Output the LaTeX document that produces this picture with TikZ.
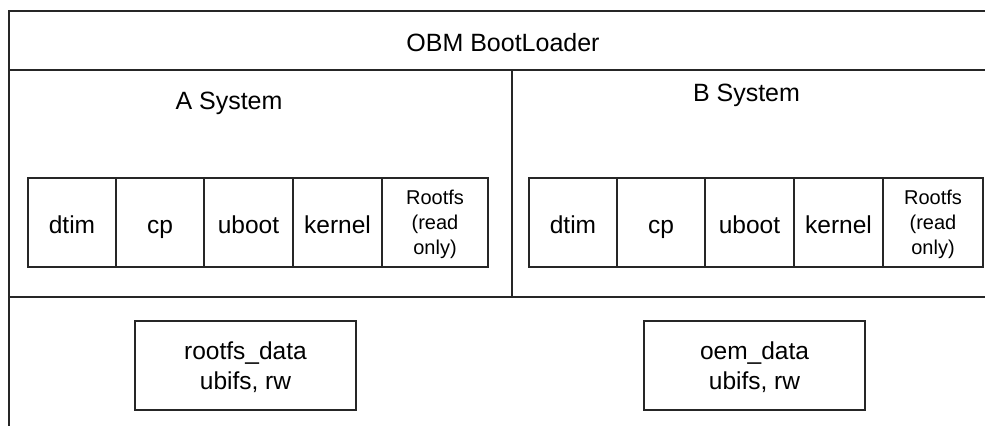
\documentclass[tikz,border=0pt]{standalone}
\usepackage{fontspec}
\setmainfont{Liberation Sans}
\tikzset{
  frame/.style={draw=black!85, line width=1.6pt},
  cell/.style={draw=black!85, line width=1.6pt, rectangle, inner sep=0pt, minimum height=89pt,
     font=\fontsize{24.5}{29}\selectfont, text height=21pt, text depth=0pt},
  smallcell/.style={draw=black!85, line width=1.6pt, rectangle, inner sep=0pt, minimum height=89pt,
     font=\fontsize{20}{25}\selectfont, align=center},
  databox/.style={draw=black!85, line width=1.6pt, rectangle, inner sep=0pt, minimum width=221pt, minimum height=89pt,
     font=\fontsize{24.5}{30}\selectfont, align=center},
  title/.style={font=\fontsize{25}{30}\selectfont, inner sep=0pt}
}
\begin{document}
\begin{tikzpicture}[x=1pt,y=-1pt]
\useasboundingbox (0,0) rectangle (985,426);
% frame
\coordinate (tl) at (9,11);
\coordinate (tr) at (985,11);
\coordinate (bl) at (9,426);
\coordinate (l1) at (9,70);
\coordinate (r1) at (985,70);
\coordinate (l2) at (9,297);
\coordinate (r2) at (985,297);
\coordinate (m1) at (512,70);
\coordinate (m2) at (512,297);
\draw[frame] (tr) -- (tl) -- (bl);
\draw[frame] (l1) -- (r1);
\draw[frame] (l2) -- (r2);
\draw[frame] (m1) -- (m2);
% titles
\node[title] (obm) at (503,43) {OBM BootLoader};
\node[title] (asys) at (229,103) {A System};
\node[title] (bsys) at (746.5,95) {B System};
% A row
\node[cell, minimum width=88pt] (adtim) at (72,222.5) {dtim};
\node[cell, minimum width=88pt] (acp) at (160,222.5) {cp};
\node[cell, minimum width=89pt] (auboot) at (248.5,222.5) {uboot};
\node[cell, minimum width=89pt] (akernel) at (337.5,222.5) {kernel};
\node[smallcell, minimum width=106pt] (arootfs) at (435,222.5) {};
\node[font=\fontsize{20}{25}\selectfont, align=center, inner sep=0pt] (arootfst) at (435,224.5) {Rootfs\\(read\\only)};
% B row
\node[cell, minimum width=88pt] (bdtim) at (573,222.5) {dtim};
\node[cell, minimum width=88pt] (bcp) at (661,222.5) {cp};
\node[cell, minimum width=89pt] (buboot) at (749.5,222.5) {uboot};
\node[cell, minimum width=89pt] (bkernel) at (838.5,222.5) {kernel};
\node[smallcell, minimum width=100pt] (brootfs) at (933,222.5) {};
\node[font=\fontsize{20}{25}\selectfont, align=center, inner sep=0pt] (brootfst) at (933,224.5) {Rootfs\\(read\\only)};
% data boxes
\node[databox] (rdata) at (245.5,365.5) {};
\node[font=\fontsize{24.5}{30}\selectfont, align=center, inner sep=0pt] (rdatat) at (245.5,367.5) {rootfs\_data\\ubifs, rw};
\node[databox] (odata) at (754.5,365.5) {};
\node[font=\fontsize{24.5}{30}\selectfont, align=center, inner sep=0pt] (odatat) at (754.5,367.5) {oem\_data\\ubifs, rw};
\end{tikzpicture}
\end{document}
